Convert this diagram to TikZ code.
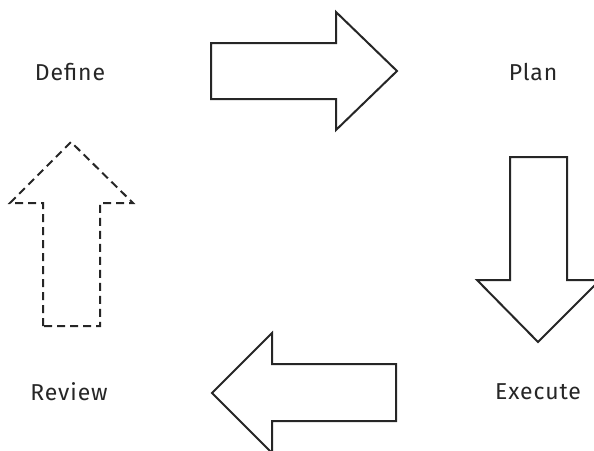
\documentclass[tikz,border=0pt]{standalone}
\usepackage{fontspec}
\setmainfont{Fira Sans}[LetterSpace=4]
\begin{document}
\begin{tikzpicture}[x=1pt,y=-1pt,
  lbl/.style={font=\fontsize{23}{27}\selectfont, text=black!85},
  bigarrow/.style={draw=black!85, line width=2pt, line join=miter, fill=white},
  dasharrow/.style={bigarrow, dash pattern=on 8pt off 5pt}]
\useasboundingbox (0,0) rectangle (594,450);
\node[lbl] (define) at (70,72) {Define};
\node[lbl] (plan) at (533,72) {Plan};
\node[lbl] (execute) at (538,392) {Execute};
\node[lbl] (review) at (69,392) {Review};
% right arrow
\draw[bigarrow] (211,43) -- (336,43) -- (336,12) -- (397,71) -- (336,130) -- (336,99) -- (211,99) -- cycle;
% down arrow
\draw[bigarrow] (510,157) -- (567,157) -- (567,280) -- (600,280) -- (538,342) -- (477,280) -- (510,280) -- cycle;
% left arrow
\draw[bigarrow] (396,364) -- (272,364) -- (272,333) -- (212,393) -- (272,453) -- (272,421) -- (396,421) -- cycle;
% up arrow dashed
\draw[dasharrow] (43,326) -- (43,203) -- (10,203) -- (71,142) -- (133,203) -- (100,203) -- (100,326) -- cycle;
\end{tikzpicture}
\end{document}
